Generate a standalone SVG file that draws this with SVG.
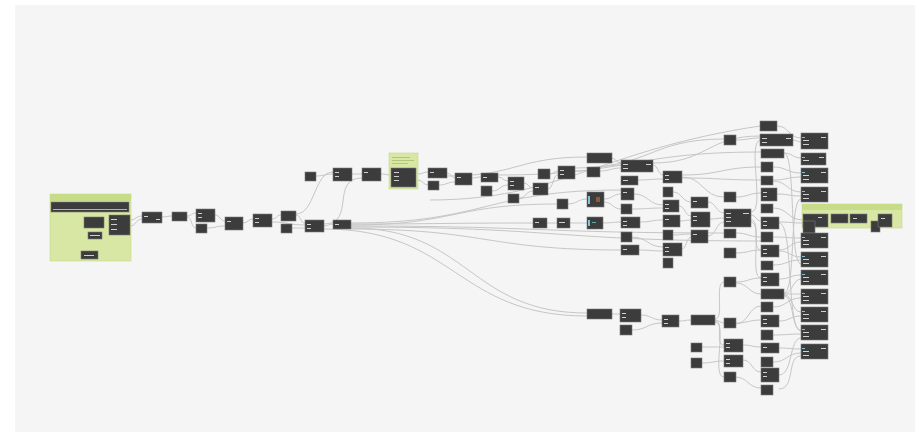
<svg xmlns="http://www.w3.org/2000/svg" width="921" height="438" viewBox="0 0 921 438">
<style>
.n{fill:#3c3c3c;stroke:#7a7a7a;stroke-width:0.6}
.e{fill:none;stroke:#c6c6c6;stroke-width:1}
.g{fill:#d8e7a4;stroke:#c3d98a;stroke-width:0.6}
.gh{fill:#c7dc88}
.p{fill:#d0d0d0}
.c{fill:#7fc4d8}
</style>
<rect width="921" height="438" fill="#ffffff"/>
<rect x="15" y="5" width="900" height="427" fill="#f5f5f5"/>

<g id="connectors">
<path class="e" d="M104 222 C106 222 107 221 109 221"/>
<path class="e" d="M102 236 C106 236 105 226 109 226"/>
<path class="e" d="M98 255 C106 255 101 230 109 230"/>
<path class="e" d="M130 220 C136 220 136 216 142 216"/>
<path class="e" d="M130 226 C136 226 136 219 142 219"/>
<path class="e" d="M162 217 C167 217 167 216 172 216"/>
<path class="e" d="M187 216 C192 216 191 213 196 213"/>
<path class="e" d="M187 217 C192 217 191 228 196 228"/>
<path class="e" d="M215 215 C220 215 220 221 225 221"/>
<path class="e" d="M207 228 C216 228 216 226 225 226"/>
<path class="e" d="M243 223 C248 223 248 219 253 219"/>
<path class="e" d="M272 219 C277 219 276 215 281 215"/>
<path class="e" d="M272 222 C288 222 289 225 305 225"/>
<path class="e" d="M296 215 C301 215 300 223 305 223"/>
<path class="e" d="M292 228 C298 228 299 228 305 228"/>
<path class="e" d="M296 214 C315 214 314 172 333 172"/>
<path class="e" d="M316 176 C324 176 325 174 333 174"/>
<path class="e" d="M352 174 C357 174 357 174 362 174"/>
<path class="e" d="M324 224 C356 224 330 178 362 178"/>
<path class="e" d="M324 226 C328 226 329 224 333 224"/>
<path class="e" d="M381 174 C386 174 386 175 391 175"/>
<path class="e" d="M418 174 C423 174 423 172 428 172"/>
<path class="e" d="M418 180 C423 180 423 185 428 185"/>
<path class="e" d="M447 173 C451 173 451 178 455 178"/>
<path class="e" d="M439 185 C447 185 447 182 455 182"/>
<path class="e" d="M472 178 C476 178 477 177 481 177"/>
<path class="e" d="M498 177 C503 177 503 181 508 181"/>
<path class="e" d="M492 191 C500 191 500 185 508 185"/>
<path class="e" d="M524 183 C528 183 529 188 533 188"/>
<path class="e" d="M519 198 C526 198 526 191 533 191"/>
<path class="e" d="M550 174 C554 174 554 171 558 171"/>
<path class="e" d="M548 189 C553 189 553 175 558 175"/>
<path class="e" d="M575 171 C598 171 598 165 621 165"/>
<path class="e" d="M611 158 C616 158 616 163 621 163"/>
<path class="e" d="M600 171 C610 171 611 168 621 168"/>
<path class="e" d="M653 165 C658 165 658 175 663 175"/>
<path class="e" d="M638 180 C650 180 651 179 663 179"/>
<path class="e" d="M568 204 C577 204 578 199 587 199"/>
<path class="e" d="M604 199 C612 199 613 194 621 194"/>
<path class="e" d="M604 202 C612 202 613 209 621 209"/>
<path class="e" d="M634 194 C648 194 649 205 663 205"/>
<path class="e" d="M632 209 C647 209 648 208 663 208"/>
<path class="e" d="M682 175 C721 175 722 167 761 167"/>
<path class="e" d="M682 178 C721 178 722 180 761 180"/>
<path class="e" d="M682 177 C703 177 703 197 724 197"/>
<path class="e" d="M673 192 C682 192 682 202 691 202"/>
<path class="e" d="M679 206 C685 206 685 216 691 216"/>
<path class="e" d="M680 221 C685 221 686 220 691 220"/>
<path class="e" d="M673 235 C682 235 682 234 691 234"/>
<path class="e" d="M682 249 C686 249 687 237 691 237"/>
<path class="e" d="M708 202 C716 202 716 213 724 213"/>
<path class="e" d="M710 219 C717 219 717 218 724 218"/>
<path class="e" d="M708 236 C716 236 716 222 724 222"/>
<path class="e" d="M547 223 C552 223 552 223 557 223"/>
<path class="e" d="M570 223 C578 223 579 223 587 223"/>
<path class="e" d="M603 223 C612 223 612 222 621 222"/>
<path class="e" d="M640 222 C651 222 652 220 663 220"/>
<path class="e" d="M632 237 C647 237 648 247 663 247"/>
<path class="e" d="M639 250 C651 250 651 251 663 251"/>
<path class="e" d="M612 314 C616 314 616 314 620 314"/>
<path class="e" d="M641 315 C651 315 652 320 662 320"/>
<path class="e" d="M632 330 C647 330 647 323 662 323"/>
<path class="e" d="M679 321 C685 321 685 320 691 320"/>
<path class="e" d="M715 319 C725 319 714 282 724 282"/>
<path class="e" d="M715 320 C719 320 720 323 724 323"/>
<path class="e" d="M715 321 C725 321 714 345 724 345"/>
<path class="e" d="M702 347 C713 347 713 347 724 347"/>
<path class="e" d="M702 363 C713 363 713 361 724 361"/>
<path class="e" d="M715 322 C728 322 711 377 724 377"/>
<path class="e" d="M351 224 C442 224 442 223 533 223"/>
<path class="e" d="M351 225 C454 225 454 204 557 204"/>
<path class="e" d="M351 226 C537 226 538 233 724 233"/>
<path class="e" d="M351 227 C556 227 556 241 761 241"/>
<path class="e" d="M351 228 C469 228 469 313 587 313"/>
<path class="e" d="M324 229 C455 229 456 316 587 316"/>
<path class="e" d="M351 229 C486 229 486 250 621 250"/>
<path class="e" d="M351 223 C486 223 486 190 621 190"/>
<path class="e" d="M447 176 C517 176 517 157 587 157"/>
<path class="e" d="M498 175 C630 175 630 152 761 152"/>
<path class="e" d="M575 168 C650 168 650 139 724 139"/>
<path class="e" d="M653 163 C707 163 707 136 760 136"/>
<path class="e" d="M430 200 C560 200 600 150 760 126"/>
<path class="e" d="M736 140 C748 140 748 138 760 138"/>
<path class="e" d="M736 197 C748 197 749 193 761 193"/>
<path class="e" d="M751 215 C756 215 756 221 761 221"/>
<path class="e" d="M751 220 C761 220 751 250 761 250"/>
<path class="e" d="M751 222 C763 222 749 278 761 278"/>
<path class="e" d="M751 212 C766 212 746 140 761 140"/>
<path class="e" d="M736 233 C748 233 749 237 761 237"/>
<path class="e" d="M736 253 C748 253 749 250 761 250"/>
<path class="e" d="M736 282 C748 282 749 278 761 278"/>
<path class="e" d="M736 283 C748 283 749 294 761 294"/>
<path class="e" d="M736 323 C748 323 749 320 761 320"/>
<path class="e" d="M736 324 C748 324 749 306 761 306"/>
<path class="e" d="M743 345 C752 345 752 347 761 347"/>
<path class="e" d="M743 360 C752 360 752 372 761 372"/>
<path class="e" d="M735 377 C748 377 748 388 761 388"/>
<path class="e" d="M777 126 C789 126 789 138 801 138"/>
<path class="e" d="M793 140 C797 140 797 142 801 142"/>
<path class="e" d="M784 153 C792 153 793 158 801 158"/>
<path class="e" d="M773 167 C787 167 787 173 801 173"/>
<path class="e" d="M773 180 C787 180 787 177 801 177"/>
<path class="e" d="M773 181 C787 181 787 192 801 192"/>
<path class="e" d="M777 194 C789 194 789 196 801 196"/>
<path class="e" d="M773 208 C788 208 788 220 803 220"/>
<path class="e" d="M779 222 C791 222 791 223 803 223"/>
<path class="e" d="M773 237 C787 237 787 238 801 238"/>
<path class="e" d="M779 250 C790 250 790 242 801 242"/>
<path class="e" d="M779 251 C790 251 790 257 801 257"/>
<path class="e" d="M773 265 C787 265 787 260 801 260"/>
<path class="e" d="M779 279 C790 279 790 275 801 275"/>
<path class="e" d="M784 294 C792 294 793 279 801 279"/>
<path class="e" d="M784 294 C792 294 793 294 801 294"/>
<path class="e" d="M784 295 C794 295 791 312 801 312"/>
<path class="e" d="M784 296 C794 296 791 330 801 330"/>
<path class="e" d="M773 307 C787 307 787 298 801 298"/>
<path class="e" d="M779 321 C790 321 790 316 801 316"/>
<path class="e" d="M773 335 C787 335 787 334 801 334"/>
<path class="e" d="M779 348 C790 348 790 349 801 349"/>
<path class="e" d="M773 362 C787 362 787 353 801 353"/>
<path class="e" d="M779 375 C793 375 789 338 801 338"/>
<path class="e" d="M784 153 C796 153 789 264 801 264"/>
<path class="e" d="M784 293 C796 293 789 199 801 199"/>
<path class="e" d="M779 223 C794 223 786 331 801 331"/>
<path class="e" d="M779 389 C796 389 786 356 801 356"/>
<path class="e" d="M828 219 C830 219 829 219 831 219"/>
<path class="e" d="M848 219 C849 219 849 219 850 219"/>
<path class="e" d="M867 219 C872 219 873 219 878 219"/>
</g>

<g id="group-input">
<rect class="g" x="50" y="194" width="81" height="67"/>
<rect class="gh" x="50" y="194" width="81" height="7"/>
<rect class="n" x="51" y="202" width="78" height="10"/>
<rect class="p" x="53" y="209" width="74" height="0.8"/>
</g>
<g id="nA"><rect class="n" x="84" y="217" width="20" height="11"/></g>
<g id="nB"><rect class="n" x="88" y="232" width="14" height="7"/><rect class="p" x="90" y="235" width="10" height="1"/></g>
<g id="nC"><rect class="n" x="109" y="215" width="21" height="20"/><rect class="p" x="111" y="219" width="6" height="1"/><rect class="p" x="111" y="224" width="6" height="1"/><rect class="p" x="111" y="229" width="6" height="1"/></g>
<g id="nD"><rect class="n" x="81" y="251" width="17" height="8"/><rect class="p" x="84" y="255" width="10" height="1"/></g>

<g id="n1"><rect class="n" x="142" y="212" width="20" height="11"/><rect class="p" x="144" y="216" width="4" height="1"/><rect class="p" x="156" y="219" width="4" height="1"/></g>
<g id="n2"><rect class="n" x="172" y="212" width="15" height="9"/></g>
<g id="n3"><rect class="n" x="196" y="209" width="19" height="13"/><rect class="p" x="198" y="213" width="4" height="1"/><rect class="p" x="198" y="217" width="4" height="1"/></g>
<g id="n3b"><rect class="n" x="196" y="224" width="11" height="9"/></g>
<g id="n4"><rect class="n" x="225" y="217" width="18" height="13"/><rect class="p" x="227" y="221" width="4" height="1"/></g>
<g id="n5"><rect class="n" x="253" y="214" width="19" height="13"/><rect class="p" x="255" y="218" width="4" height="1"/><rect class="p" x="255" y="222" width="4" height="1"/></g>
<g id="n6"><rect class="n" x="281" y="211" width="15" height="10"/></g>
<g id="n6b"><rect class="n" x="281" y="224" width="11" height="9"/></g>
<g id="n7"><rect class="n" x="305" y="220" width="19" height="12"/><rect class="p" x="307" y="224" width="4" height="1"/><rect class="p" x="307" y="228" width="4" height="1"/></g>
<g id="n8"><rect class="n" x="333" y="220" width="18" height="9"/><rect class="p" x="335" y="224" width="4" height="1"/></g>

<g id="m1"><rect class="n" x="305" y="172" width="11" height="9"/></g>
<g id="m2"><rect class="n" x="333" y="168" width="19" height="13"/><rect class="p" x="335" y="172" width="4" height="1"/><rect class="p" x="335" y="176" width="4" height="1"/></g>
<g id="m3"><rect class="n" x="362" y="168" width="19" height="13"/><rect class="p" x="364" y="172" width="4" height="1"/></g>
<g id="group-mid">
<rect class="g" x="389" y="153" width="29" height="36"/>
<rect class="p" x="392" y="157" width="18" height="0.8" style="fill:#a9bf6c"/>
<rect class="p" x="392" y="160" width="22" height="0.8" style="fill:#a9bf6c"/>
<rect class="p" x="392" y="163" width="16" height="0.8" style="fill:#a9bf6c"/>
<rect class="n" x="391" y="168" width="25" height="19"/>
<rect class="p" x="394" y="172" width="5" height="1"/><rect class="p" x="394" y="176" width="5" height="1"/><rect class="p" x="394" y="180" width="5" height="1"/>
</g>
<g id="m4"><rect class="n" x="428" y="168" width="19" height="10"/><rect class="p" x="430" y="172" width="4" height="1"/></g>
<g id="m4b"><rect class="n" x="428" y="181" width="11" height="9"/></g>
<g id="m5"><rect class="n" x="455" y="173" width="17" height="12"/><rect class="p" x="457" y="177" width="4" height="1"/></g>
<g id="p1"><rect class="n" x="481" y="173" width="17" height="9"/><rect class="p" x="483" y="177" width="4" height="1"/></g>
<g id="p1b"><rect class="n" x="481" y="186" width="11" height="10"/></g>
<g id="p2"><rect class="n" x="508" y="177" width="16" height="13"/><rect class="p" x="510" y="181" width="4" height="1"/><rect class="p" x="510" y="185" width="4" height="1"/></g>
<g id="p2b"><rect class="n" x="508" y="194" width="11" height="9"/></g>
<g id="p3"><rect class="n" x="538" y="169" width="12" height="10"/></g>
<g id="p3b"><rect class="n" x="533" y="183" width="15" height="12"/><rect class="p" x="535" y="187" width="4" height="1"/></g>
<g id="p4"><rect class="n" x="558" y="166" width="17" height="13"/><rect class="p" x="560" y="170" width="4" height="1"/><rect class="p" x="560" y="174" width="4" height="1"/></g>
<g id="p5"><rect class="n" x="587" y="153" width="25" height="10"/></g>
<g id="p5b"><rect class="n" x="587" y="167" width="13" height="10"/></g>
<g id="p6"><rect class="n" x="621" y="160" width="32" height="12"/><rect class="p" x="623" y="164" width="5" height="1"/><rect class="p" x="623" y="168" width="5" height="1"/><rect class="p" x="646" y="164" width="5" height="1"/></g>
<g id="p6b"><rect class="n" x="621" y="176" width="17" height="9"/><rect class="p" x="623" y="180" width="5" height="1"/></g>
<g id="p7"><rect class="n" x="663" y="171" width="19" height="12"/><rect class="p" x="665" y="175" width="4" height="1"/><rect class="p" x="665" y="179" width="4" height="1"/></g>
<g id="p7b"><rect class="n" x="663" y="187" width="10" height="10"/></g>
<g id="p8"><rect class="n" x="587" y="192" width="17" height="15"/><rect class="c" x="588" y="196" width="2" height="8"/><rect x="596" y="197" width="4" height="5" fill="#8a5a3a"/></g>
<g id="p9"><rect class="n" x="557" y="199" width="11" height="10"/></g>
<g id="p10"><rect class="n" x="621" y="188" width="13" height="12"/><rect class="p" x="623" y="192" width="4" height="1"/></g>
<g id="p10b"><rect class="n" x="621" y="204" width="11" height="10"/></g>
<g id="p11"><rect class="n" x="663" y="200" width="16" height="12"/><rect class="p" x="665" y="204" width="4" height="1"/><rect class="p" x="665" y="208" width="4" height="1"/></g>
<g id="p11c"><rect class="n" x="663" y="215" width="17" height="12"/><rect class="p" x="665" y="219" width="4" height="1"/></g>
<g id="p11d"><rect class="n" x="663" y="230" width="10" height="10"/></g>
<g id="q1"><rect class="n" x="533" y="218" width="14" height="10"/><rect class="p" x="535" y="222" width="4" height="1"/></g>
<g id="q2"><rect class="n" x="557" y="218" width="13" height="10"/><rect class="p" x="559" y="222" width="6" height="1"/></g>
<g id="q3"><rect class="n" x="587" y="217" width="16" height="12"/><rect class="c" x="588" y="220" width="2" height="6"/><rect class="p" x="592" y="222" width="4" height="1" style="fill:#6aa"/></g>
<g id="q4"><rect class="n" x="621" y="217" width="19" height="11"/><rect class="p" x="623" y="221" width="4" height="1"/><rect class="p" x="623" y="225" width="4" height="1"/></g>
<g id="q4b"><rect class="n" x="621" y="232" width="11" height="10"/></g>
<g id="q5"><rect class="n" x="621" y="245" width="18" height="10"/><rect class="p" x="623" y="249" width="4" height="1"/></g>
<g id="q6"><rect class="n" x="663" y="243" width="19" height="13"/><rect class="p" x="665" y="247" width="4" height="1"/><rect class="p" x="665" y="251" width="4" height="1"/></g>
<g id="q6b"><rect class="n" x="663" y="258" width="10" height="10"/></g>
<g id="r1"><rect class="n" x="691" y="197" width="17" height="11"/><rect class="p" x="693" y="201" width="4" height="1"/></g>
<g id="r2"><rect class="n" x="691" y="212" width="19" height="15"/><rect class="p" x="693" y="216" width="4" height="1"/><rect class="p" x="693" y="220" width="4" height="1"/></g>
<g id="r3"><rect class="n" x="691" y="230" width="17" height="13"/><rect class="p" x="693" y="234" width="4" height="1"/></g>

<g id="t1"><rect class="n" x="587" y="309" width="25" height="10"/></g>
<g id="t2"><rect class="n" x="620" y="309" width="21" height="13"/><rect class="p" x="622" y="313" width="4" height="1"/><rect class="p" x="622" y="317" width="4" height="1"/></g>
<g id="t2b"><rect class="n" x="620" y="325" width="12" height="10"/></g>
<g id="t3"><rect class="n" x="662" y="315" width="17" height="12"/><rect class="p" x="664" y="319" width="4" height="1"/><rect class="p" x="664" y="323" width="4" height="1"/></g>
<g id="t4"><rect class="n" x="691" y="315" width="24" height="10"/></g>
<g id="t5"><rect class="n" x="691" y="343" width="11" height="9"/></g>
<g id="t6"><rect class="n" x="691" y="358" width="11" height="10"/></g>

<g id="l1"><rect class="n" x="724" y="135" width="12" height="10"/></g>
<g id="l2"><rect class="n" x="724" y="192" width="12" height="10"/></g>
<g id="l3"><rect class="n" x="724" y="209" width="27" height="18"/><rect class="p" x="726" y="213" width="5" height="1"/><rect class="p" x="726" y="217" width="5" height="1"/><rect class="p" x="726" y="221" width="5" height="1"/><rect class="p" x="743" y="213" width="6" height="1"/></g>
<g id="l4"><rect class="n" x="724" y="229" width="12" height="9"/></g>
<g id="l5"><rect class="n" x="724" y="248" width="12" height="10"/></g>
<g id="l6"><rect class="n" x="724" y="277" width="12" height="10"/></g>
<g id="l7"><rect class="n" x="724" y="318" width="12" height="10"/></g>
<g id="l8"><rect class="n" x="724" y="339" width="19" height="13"/><rect class="p" x="726" y="343" width="4" height="1"/><rect class="p" x="726" y="347" width="4" height="1"/></g>
<g id="l9"><rect class="n" x="724" y="355" width="19" height="12"/><rect class="p" x="726" y="359" width="4" height="1"/><rect class="p" x="726" y="363" width="4" height="1"/></g>
<g id="l10"><rect class="n" x="724" y="372" width="12" height="10"/></g>

<g id="s0"><rect class="n" x="760" y="121" width="17" height="10"/></g>
<g id="s1"><rect class="n" x="760" y="134" width="33" height="12"/><rect class="p" x="762" y="138" width="5" height="1"/><rect class="p" x="762" y="142" width="5" height="1"/><rect class="p" x="786" y="138" width="5" height="1"/></g>
<g id="s2"><rect class="n" x="761" y="149" width="23" height="9"/></g>
<g id="s3"><rect class="n" x="761" y="162" width="12" height="10"/></g>
<g id="s4"><rect class="n" x="761" y="176" width="12" height="9"/></g>
<g id="s5"><rect class="n" x="761" y="188" width="16" height="13"/><rect class="p" x="763" y="192" width="4" height="1"/><rect class="p" x="763" y="196" width="4" height="1"/></g>
<g id="s6"><rect class="n" x="761" y="204" width="12" height="9"/></g>
<g id="s7"><rect class="n" x="761" y="217" width="18" height="12"/><rect class="p" x="763" y="221" width="4" height="1"/><rect class="p" x="763" y="225" width="4" height="1"/></g>
<g id="s8"><rect class="n" x="761" y="232" width="12" height="10"/></g>
<g id="s9"><rect class="n" x="761" y="245" width="18" height="12"/><rect class="p" x="763" y="249" width="4" height="1"/><rect class="p" x="763" y="253" width="4" height="1"/></g>
<g id="s10"><rect class="n" x="761" y="261" width="12" height="9"/></g>
<g id="s11"><rect class="n" x="761" y="273" width="18" height="13"/><rect class="p" x="763" y="277" width="4" height="1"/><rect class="p" x="763" y="281" width="4" height="1"/></g>
<g id="s12"><rect class="n" x="761" y="289" width="23" height="10"/></g>
<g id="s13"><rect class="n" x="761" y="302" width="12" height="10"/></g>
<g id="s14"><rect class="n" x="761" y="315" width="18" height="12"/><rect class="p" x="763" y="319" width="4" height="1"/><rect class="p" x="763" y="323" width="4" height="1"/></g>
<g id="s15"><rect class="n" x="761" y="330" width="12" height="10"/></g>
<g id="s16"><rect class="n" x="761" y="343" width="18" height="10"/><rect class="p" x="763" y="347" width="4" height="1"/></g>
<g id="s17"><rect class="n" x="761" y="357" width="12" height="10"/></g>
<g id="s18"><rect class="n" x="761" y="368" width="18" height="14"/><rect class="p" x="763" y="372" width="4" height="1"/><rect class="p" x="763" y="376" width="4" height="1"/></g>
<g id="s19"><rect class="n" x="761" y="385" width="12" height="10"/></g>

<g id="o1"><rect class="n" x="801" y="133" width="27" height="16"/><rect class="c" x="802" y="137" width="3" height="1"/><rect class="p" x="803" y="140" width="6" height="1"/><rect class="p" x="803" y="144" width="6" height="1"/><rect class="p" x="821" y="137" width="5" height="1"/></g>
<g id="o2"><rect class="n" x="801" y="153" width="25" height="12"/><rect class="c" x="802" y="157" width="3" height="1"/><rect class="p" x="803" y="160" width="6" height="1"/><rect class="p" x="819" y="157" width="5" height="1"/></g>
<g id="o3"><rect class="n" x="801" y="168" width="27" height="15"/><rect class="c" x="802" y="172" width="3" height="1"/><rect class="p" x="803" y="175" width="6" height="1"/><rect class="p" x="803" y="179" width="6" height="1"/><rect class="p" x="821" y="172" width="5" height="1"/></g>
<g id="o4"><rect class="n" x="801" y="187" width="27" height="15"/><rect class="c" x="802" y="191" width="3" height="1"/><rect class="p" x="803" y="194" width="6" height="1"/><rect class="p" x="803" y="198" width="6" height="1"/><rect class="p" x="821" y="191" width="5" height="1"/></g>
<g id="group-output">
<rect class="g" x="802" y="204" width="100" height="24"/>
<rect class="gh" x="802" y="204" width="100" height="6"/>
<rect class="n" x="803" y="214" width="25" height="13"/>
<rect class="n" x="803" y="221" width="12" height="12"/>
<rect class="n" x="831" y="214" width="17" height="9"/>
<rect class="n" x="850" y="214" width="17" height="9"/>
<rect class="n" x="871" y="221" width="9" height="11"/>
<rect class="n" x="878" y="214" width="14" height="13"/>
<rect class="p" x="818" y="217" width="4" height="1"/><rect class="p" x="853" y="218" width="4" height="1"/><rect class="p" x="881" y="218" width="4" height="1"/>
</g>
<g id="o5"><rect class="n" x="801" y="233" width="27" height="15"/><rect class="c" x="802" y="237" width="3" height="1"/><rect class="p" x="803" y="240" width="6" height="1"/><rect class="p" x="803" y="244" width="6" height="1"/><rect class="p" x="821" y="237" width="5" height="1"/></g>
<g id="o6"><rect class="n" x="801" y="252" width="27" height="15"/><rect class="c" x="802" y="256" width="3" height="1"/><rect class="p" x="803" y="259" width="6" height="1"/><rect class="p" x="803" y="263" width="6" height="1"/><rect class="p" x="821" y="256" width="5" height="1"/></g>
<g id="o7"><rect class="n" x="801" y="270" width="27" height="15"/><rect class="c" x="802" y="274" width="3" height="1"/><rect class="p" x="803" y="277" width="6" height="1"/><rect class="p" x="803" y="281" width="6" height="1"/><rect class="p" x="821" y="274" width="5" height="1"/></g>
<g id="o8"><rect class="n" x="801" y="289" width="27" height="15"/><rect class="c" x="802" y="293" width="3" height="1"/><rect class="p" x="803" y="296" width="6" height="1"/><rect class="p" x="803" y="300" width="6" height="1"/><rect class="p" x="821" y="293" width="5" height="1"/></g>
<g id="o9"><rect class="n" x="801" y="307" width="27" height="15"/><rect class="c" x="802" y="311" width="3" height="1"/><rect class="p" x="803" y="314" width="6" height="1"/><rect class="p" x="803" y="318" width="6" height="1"/><rect class="p" x="821" y="311" width="5" height="1"/></g>
<g id="o10"><rect class="n" x="801" y="325" width="27" height="15"/><rect class="c" x="802" y="329" width="3" height="1"/><rect class="p" x="803" y="332" width="6" height="1"/><rect class="p" x="803" y="336" width="6" height="1"/><rect class="p" x="821" y="329" width="5" height="1"/></g>
<g id="o11"><rect class="n" x="801" y="344" width="27" height="15"/><rect class="c" x="802" y="348" width="3" height="1"/><rect class="p" x="803" y="351" width="6" height="1"/><rect class="p" x="803" y="355" width="6" height="1"/><rect class="p" x="821" y="348" width="5" height="1"/></g>
</svg>
